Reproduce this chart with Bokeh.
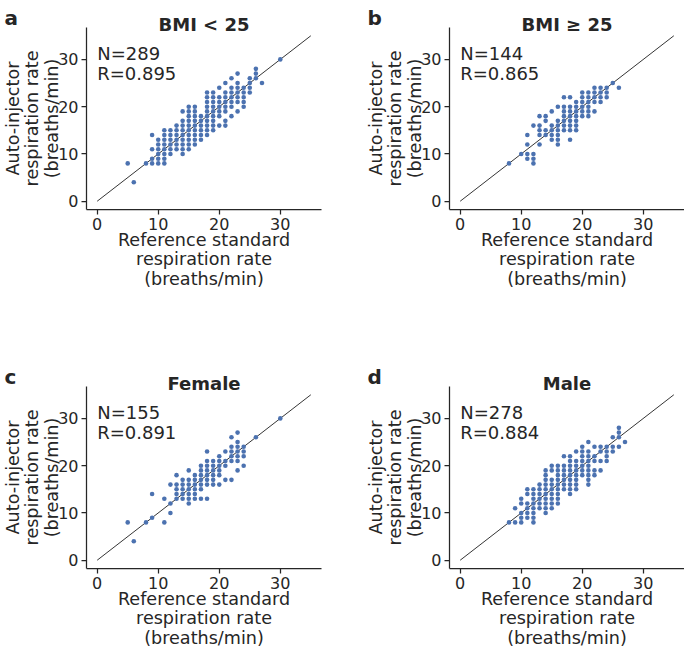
import math
from bokeh.plotting import figure
from bokeh.models import Label, FixedTicker, Range1d
from bokeh.layouts import gridplot
from bokeh.embed import file_html
from bokeh.resources import INLINE

# ---------------- data (integer readings, grouped by reference value) ----------------
bmi_lt25_x = [5, 6, 8, 9, 10, 11, 12, 13, 14, 15, 16, 17, 18, 19, 20, 21, 22, 23, 24, 25, 26, 27, 30]
bmi_lt25_y = [[8], [4], [8], [8, 9, 11, 14], [8, 9, 10, 11, 12, 13], [8, 9, 10, 11, 12, 13, 14, 15],
              [10, 11, 12, 13, 14, 15], [11, 12, 13, 14, 15, 16], [10, 11, 12, 13, 14, 15, 16, 17, 19],
              [11, 12, 13, 14, 15, 16, 17, 18, 19, 20], [12, 13, 14, 15, 16, 17, 18, 19, 20],
              [13, 14, 15, 16, 17, 18], [14, 15, 16, 17, 18, 19, 20, 21, 22, 23],
              [15, 16, 17, 18, 19, 20, 21, 22, 23], [16, 18, 19, 20, 21, 22, 24],
              [16, 17, 19, 20, 21, 22, 23, 25], [18, 20, 21, 22, 23, 24, 26],
              [19, 21, 22, 23, 24, 25, 27], [20, 21, 22, 23, 24], [23, 24, 25, 26], [26, 27, 28], [25], [30]]

bmi_ge25_x = [8, 10, 11, 12, 13, 14, 15, 16, 17, 18, 19, 20, 21, 22, 23, 24, 25, 26]
bmi_ge25_y = [[8], [10], [9, 10, 12, 14], [8, 9, 10, 16], [12, 14, 15, 16, 18], [14, 15, 17, 18],
              [13, 14, 15, 16, 19], [12, 13, 14, 15, 16, 17, 20], [15, 16, 17, 18, 19, 20, 22],
              [13, 15, 16, 17, 18, 19, 20, 22], [15, 16, 17, 18, 19, 20, 21], [18, 19, 20, 21, 22, 23],
              [18, 19, 20, 21, 22, 23], [19, 21, 22, 23, 24], [21, 22, 23, 24], [22, 23, 24], [25], [24]]

female_x = [5, 6, 8, 9, 11, 12, 13, 14, 15, 16, 17, 18, 19, 20, 21, 22, 23, 24, 26, 30]
female_y = [[8], [4], [8], [9, 14], [8, 13], [10, 12, 16], [13, 14, 15, 16, 18], [13, 14, 15, 16, 17],
            [12, 13, 14, 15, 16, 17, 19], [13, 14, 15, 16, 17, 18], [13, 15, 16, 17, 18, 19, 20],
            [13, 16, 17, 18, 19, 20, 21, 23], [16, 17, 18, 19, 20, 21], [16, 18, 19, 20, 21, 22],
            [17, 20, 21, 23], [17, 21, 22, 23, 24, 26], [19, 21, 22, 23, 24, 25, 27], [20, 22, 23, 24],
            [26], [30]]

male_x = [8, 9, 10, 11, 12, 13, 14, 15, 16, 17, 18, 19, 20, 21, 22, 23, 24, 25, 26, 27]
male_y = [[8], [8, 11], [8, 9, 10, 12, 13], [9, 10, 11, 12, 14, 15], [8, 9, 10, 11, 12, 13, 14, 15],
          [11, 12, 13, 14, 15, 16], [10, 11, 12, 13, 14, 15, 16, 17, 18, 19],
          [11, 12, 13, 14, 15, 16, 17, 19, 20], [12, 13, 14, 15, 16, 17, 18, 19, 20],
          [15, 16, 17, 18, 19, 20, 22], [14, 15, 16, 17, 18, 19, 20, 21, 22],
          [15, 16, 17, 18, 19, 20, 21, 23], [18, 19, 20, 21, 22, 23, 24],
          [16, 17, 18, 19, 20, 21, 22, 23, 25], [18, 19, 21, 22, 24], [19, 21, 23, 24],
          [21, 22, 23, 24], [23, 24, 26], [24, 26, 27, 28], [25]]

panel_letters = ["a", "b", "c", "d"]
panel_titles = ["BMI < 25", "BMI \u2265 25", "Female", "Male"]
panel_n = ["N=289", "N=144", "N=155", "N=278"]
panel_r = ["R=0.895", "R=0.865", "R=0.891", "R=0.884"]
tick_values = [0, 10, 20, 30]
identity_line = [0, 35]
x_label_lines = ["Reference standard", "respiration rate", "(breaths/min)"]
y_label_lines = ["Auto-injector", "respiration rate", "(breaths/min)"]

# ---------------- styling / layout ----------------
FONT = "DejaVu Sans"
TXT = "#262626"
DOT = "#4c72b0"
FW, FH = 235, 182           # size of the data area (axes box) in px
X0, X1 = -1.75, 36.75       # visible data extent of the axes box
Y0, Y1 = -1.75, 36.75
BL, BT = 86, 27             # axes box offset inside each figure
SX = (X1 - X0) / FW
SY = (Y1 - Y0) / FH


def px2x(dx):
    return X0 + dx * SX


def px2y(dy):
    return Y1 - dy * SY


def flatten(xs, ys):
    fx, fy = [], []
    for x, col in zip(xs, ys):
        for y in col:
            fx.append(x)
            fy.append(y)
    return fx, fy


def make_panel(i, xs, ys, width, height):
    # the plotting frame covers the whole figure; the axes are pinned to the data box
    xr = Range1d(X0 - BL * SX, X0 + (width - BL) * SX)
    yr = Range1d(Y1 - (height - BT) * SY, Y1 + BT * SY)
    p = figure(width=width, height=height, x_range=xr, y_range=yr,
               output_backend="svg", toolbar_location=None,
               min_border_left=0, min_border_right=0, min_border_top=0, min_border_bottom=0)
    p.outline_line_color = None
    p.xgrid.visible = False
    p.ygrid.visible = False
    p.xaxis.fixed_location = Y0
    p.yaxis.fixed_location = X0
    p.xaxis.bounds = (X0, X1)
    p.yaxis.bounds = (Y0, Y1)
    for ax in (p.xaxis, p.yaxis):
        ax.ticker = FixedTicker(ticks=tick_values)
        ax.major_tick_in = 0
        ax.major_tick_out = 5
        ax.minor_tick_in = 0
        ax.minor_tick_out = 0
        ax.axis_line_color = TXT
        ax.axis_line_width = 1.25
        ax.major_tick_line_color = TXT
        ax.major_tick_line_width = 1.25
        ax.major_label_text_font = FONT
        ax.major_label_text_font_size = "16px"
        ax.major_label_text_color = TXT
        ax.major_label_standoff = 3
    p.line(identity_line, identity_line, line_color="black", line_width=0.8)
    fx, fy = flatten(xs, ys)
    p.scatter(fx, fy, size=4.6, fill_color=DOT, line_color=None)

    def lab(x, y, text, size, bold=False, align="left", base="alphabetic", angle=0.0):
        p.add_layout(Label(x=x, y=y, text=text, text_font=FONT, text_font_size=size,
                           text_font_style="bold" if bold else "normal", text_color=TXT,
                           text_align=align, text_baseline=base, angle=angle))

    lab(px2x(-82), px2y(-10), panel_letters[i], "20px", bold=True)
    lab(px2x(FW / 2), px2y(-3.5), panel_titles[i], "18px", bold=True, align="center")
    lab(0, px2y(26.3), panel_n[i], "18px")
    lab(0, px2y(45.7), panel_r[i], "18px")
    for k, t in enumerate(x_label_lines):
        lab(px2x(FW / 2), px2y(FH + 30 + 19.5 * k), t, "17.6px", align="center", base="middle")
    for k, t in enumerate(y_label_lines):
        lab(px2x(-74 + 19.5 * k), px2y(FH / 2), t, "17.6px", align="center", base="middle",
            angle=math.pi / 2)
    return p


pa = make_panel(0, bmi_lt25_x, bmi_lt25_y, 363, 359)
pb = make_panel(1, bmi_ge25_x, bmi_ge25_y, 321, 359)
pc = make_panel(2, female_x, female_y, 363, 289)
pd = make_panel(3, male_x, male_y, 321, 289)

grid = gridplot([[pa, pb], [pc, pd]], toolbar_location=None)
open("out.html", "w").write(file_html(grid, INLINE))
